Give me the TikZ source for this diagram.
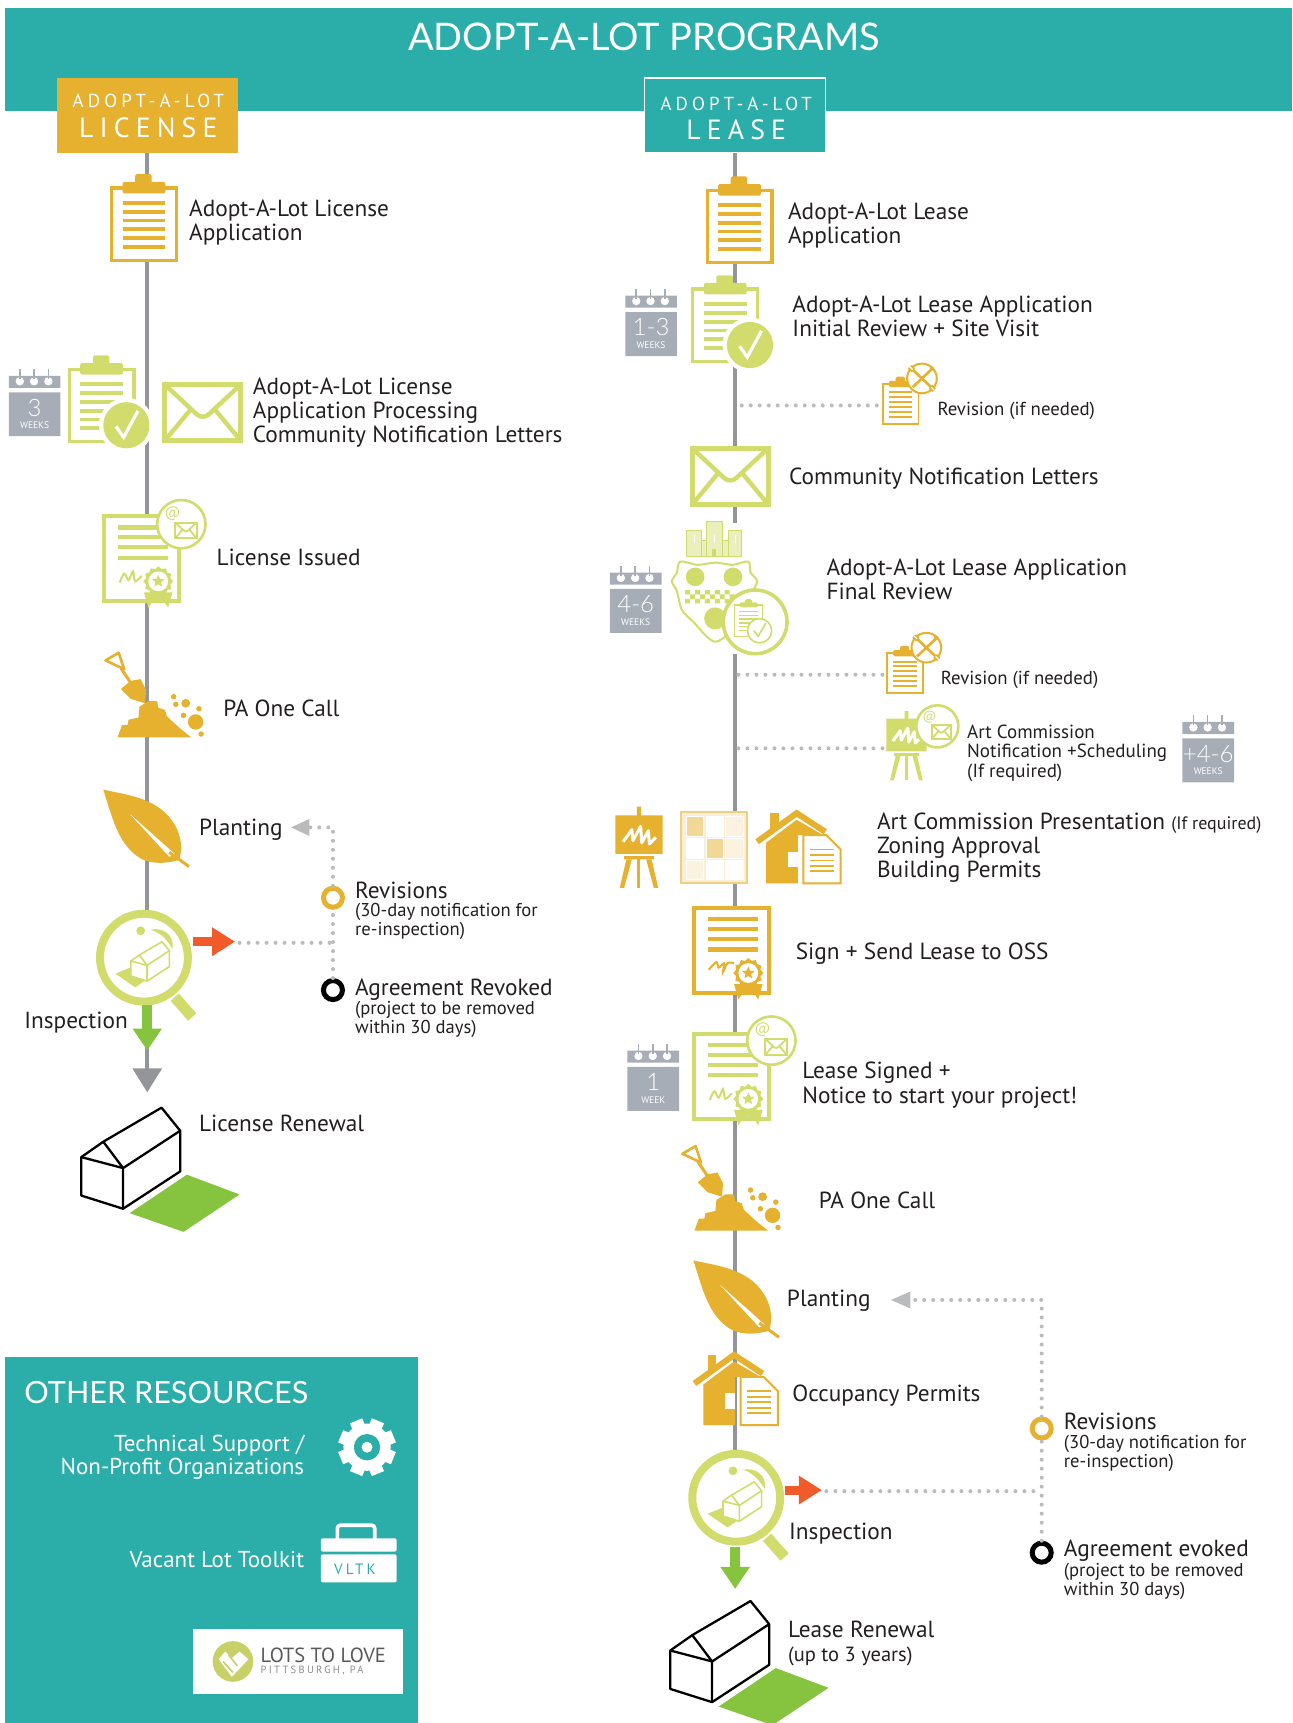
\documentclass[tikz,border=0pt]{standalone}
\usepackage{fontspec}
\setmainfont{PT Sans}
\newfontfamily\spacefont{PT Sans}[LetterSpace=22]
\newfontfamily\headfont{Lato}
\newfontfamily\thinfont{Lato Light}
\usepackage{tikz}
\usetikzlibrary{shapes.geometric, arrows.meta}
\definecolor{tealbg}{HTML}{2BAEA9}
\definecolor{amber}{HTML}{E5B12E}
\definecolor{lime}{HTML}{D2DC6D}
\definecolor{grass}{HTML}{86C440}
\definecolor{redarrow}{HTML}{F15A29}
\definecolor{spinegray}{HTML}{939598}
\definecolor{calgray}{HTML}{A7ADB7}
\definecolor{dotgray}{HTML}{B9BBBD}
\definecolor{ink}{HTML}{231F20}
\tikzstyle{lab} = [anchor=west, align=left, inner sep=0pt, text=ink, yshift=-1.6pt, font=\fontsize{23.3}{24.2}\selectfont]
\tikzstyle{midlab} = [lab, font=\fontsize{18.8}{20}\selectfont]
\tikzstyle{sublab} = [lab, font=\fontsize{18.6}{19}\selectfont]
\tikzstyle{artlab} = [lab, font=\fontsize{19}{19.4}\selectfont]
\tikzstyle{whitelab} = [inner sep=0pt, text=white, align=right, anchor=east, yshift=-1.2pt, font=\fontsize{23}{23.4}\selectfont]
\tikzstyle{spine} = [spinegray, line width=3.6pt]
\tikzstyle{dots} = [dotgray, line width=4pt, line cap=round, dash pattern=on 0pt off 9pt]
\tikzstyle{greenarrow} = [grass, line width=9.5pt, -{Triangle[length=22pt, width=28pt]}]
\tikzstyle{redblock} = [redarrow, line width=9pt, -{Triangle[length=23pt, width=27pt]}]
\tikzstyle{ringmark} = [circle, inner sep=0pt, minimum size=19pt, fill=white, line width=5pt]
\tikzstyle{progbox} = [inner sep=0pt, minimum width=181pt, minimum height=74.5pt, text=white, align=center]
\tikzset{
  pics/calendar/.style 2 args={code={
    \fill[calgray] (0,6) rectangle (47,17) (0,21) rectangle (47,61);
    \foreach \k in {10,23,36} {
      \fill[white] (\k,11) circle (3.8);
      \draw[calgray, line width=1.6pt] (\k,0) -- (\k,9);
    }
    \node (num) [text=white, inner sep=0pt, font=\thinfont\fontsize{24}{24}\selectfont] at (23.5,35) {#1};
    \node (wk) [text=white, inner sep=0pt, font=\fontsize{9.5}{10}\selectfont] at (23.5,51) {#2};
  }},
  pics/clipboard/.style 2 args={code={
    \draw[#1, fill=white, line width=#2*3.2pt] (1.5,13) rectangle (60.5,79);
    \fill[#1, rounded corners=1.5pt] (11.5,7.5) rectangle (50.5,18) (23,0.5) rectangle (38,10);
    \foreach \k in {0,...,5} \draw[#1, line width=#2*3.8pt] (11.5,26.7+8*\k) -- (50.5,26.7+8*\k);
  }},
  pics/checkclip/.style={code={
    \pic (board) at (0,0) {clipboard={lime}{#1}};
    \fill[white] (53.5,64) circle (25);
    \fill[lime] (53.5,64) circle (21);
    \draw[white, line width=#1*3.2pt] (44,65) -- (51,75) -- (64,51);
  }},
  pics/envelope/.style={code={
    \draw[lime, fill=white, line width=#1*5pt] (2,2) rectangle (71,53);
    \draw[lime, line width=#1*4.4pt] (2,2) -- (31,29) .. controls (34,32) and (39,32) .. (42,29) -- (71,2)
      (2,53) -- (26,24) (71,53) -- (47,24);
  }},
  pics/mailbubble/.style={code={
    \draw[lime, fill=white, line width=2.6pt] (0,0) circle (22);
    \node (at) [text=lime, inner sep=0pt, font=\fontsize{15}{15}\selectfont] at (-8,-10) {@};
    \pic (mini) at (-6,-2) [scale=.28, transform shape] {envelope=.4};
  }},
  pics/seal/.style={code={
    \fill[#1] (-13,10) -- (-9,24) -- (-5,18) -- (0,16) -- (5,18) -- (9,24) -- (13,10) -- cycle;
    \node (cog) [star, star points=12, star point ratio=1.2, fill=#1, inner sep=0pt, minimum size=30pt] at (0,0) {};
    \fill[white] (0,0) circle (9);
    \node (mid) [star, star points=5, star point ratio=2.2, fill=#1, inner sep=0pt, minimum size=13pt] at (0,0) {};
  }},
  pics/cert/.style 2 args={code={
    \draw[#1, fill=white, line width=4pt] (2,2) rectangle (70,79);
    \foreach \k in {12,21,30,39.5} \draw[#1, line width=4.2pt] (14,\k) -- (60,\k);
    \draw[#1, line width=2pt] plot[smooth] coordinates {#2};
    \pic (stamp) at (51,61) {seal=#1};
  }},
  pics/dirt/.style={code={
    \draw[amber, line width=2.6pt, line join=round] (2,11) -- (14,4) -- (19,19) -- cycle;
    \draw[amber, line width=3pt] (16,18) -- (28,36);
    \fill[amber] (25,29.6) -- (34,28) -- (39,38) -- (38,50) -- (25,46) -- (16,37) -- cycle;
    \fill[amber] (13,81) -- (17,70) -- (22,70) -- (23,65) -- (32,63) -- (33,53) -- (41,48) -- (49,48)
      -- (50,54) -- (56,56) -- (58,62) -- (70,73) -- (80,81) -- cycle;
    \fill[amber] (75,50) circle (4) (84,67) circle (7) (64,44) circle (2.5) (66,51) circle (2.5)
      (73,61) circle (2.5) (87,55) circle (2.5) (89,78) circle (2.5);
  }},
  pics/leaf/.style={code={
    \fill[amber] (0,0) .. controls (18,4) and (35,6) .. (50,16) .. controls (65,26) and (75,45) .. (69,64)
      .. controls (55,68) and (40,68) .. (30,60) .. controls (13,47) and (8,25) .. (0,0);
    \fill[white] (24,22) -- (65,58.5) -- (60,61) -- cycle;
    \draw[amber, line width=3pt] (60,57) -- (78,70);
  }},
  pics/hut/.style 2 args={code={
    \draw[#1, fill=white, line width=#2*2.3pt, line join=round] (73,0) -- (90,21) -- (90,58) -- (38,92)
      -- (0,80) -- (0,45) -- (20,31) -- cycle;
    \draw[#1, line width=#2*2.3pt, line join=round] (20,31) -- (38,55) -- (90,21) (0,45) -- (38,55) -- (38,92);
  }},
  pics/renewal/.style={code={
    \pic (shell) at (0,0) {hut={black}{1}};
    \fill[grass] (96,61) -- (144,79) -- (93,113) -- (44,96) -- cycle;
  }},
  pics/magnifier/.style={code={
    \draw[lime, line width=11pt] (28,36) -- (44,54);
    \draw[lime, fill=white, line width=8pt] (0,0) circle (40);
    \fill[lime] (-3,-24.5) circle (4);
    \fill[lime] (6,-25.5) .. controls (18,-28) and (28,-20) .. (26,-8) .. controls (20,-18) and (14,-23) .. (6,-25.5);
    \fill[lime] (-26,14.5) -- (-11,8.5) -- (4,19) -- (-8,27) -- cycle;
    \pic (mini) at (-12,-14.5) [scale=.39, transform shape] {hut={lime}{.7}};
  }},
  pics/easel/.style={code={
    \fill[#1] (0,0) rectangle (43,35) (19.5,-8) rectangle (23.5,0) (8,37) rectangle (35,40);
    \fill[#1] (10,40) -- (4,66) -- (8,66) -- (15,40) -- cycle (33,40) -- (39,66) -- (35,66) -- (28,40) -- cycle;
    \draw[#1, line width=3pt] (21.5,40) -- (21.5,66);
    \draw[white, line width=3pt, line join=round] plot coordinates {(7,24) (15,13) (16,23) (23,10) (24,25) (30,14) (31,26) (37,20)};
  }},
  pics/zonegrid/.style={code={
    \draw[amber!60, fill=amber!20, line width=2pt] (1,1) rectangle (61,66);
    \foreach \col/\row/\tint in {0/0/50,1/0/0,2/0/15,0/1/0,1/1/50,2/1/15,0/2/15,1/2/0,2/2/0}
      \draw[white, fill=amber!\tint!white, line width=.8pt] (5.4+18*\col,5+19.8*\row) rectangle +(16,18);
  }},
  pics/permit/.style={code={
    \fill[amber] (-24,3) rectangle (-16,18);
    \draw[amber, line width=6pt] (-36,29) -- (0,3) -- (26,20);
    \fill[amber] (-28,30) -- (0,9) -- (24,23) -- (1,23) -- (1,67) -- (-28,67) -- cycle;
    \fill[white] (-8,38) rectangle (1,52);
    \draw[amber, fill=white, line width=2pt] (6,23) -- (27,23) -- (40,36) -- (40,67) -- (6,67) -- cycle;
    \foreach \k in {36,41,46,51,56} \draw[amber, line width=1.8pt] (12,\k) -- (34,\k);
  }},
  pics/revision/.style={code={
    \pic (sheet) at (0,0) [scale=.55, transform shape] {clipboard={amber}{.55}};
    \draw[amber, fill=white, line width=2pt] (36.5,2) circle (13.5);
    \draw[amber, line width=2.6pt] (28,-6) -- (45,10) (45,-6) -- (28,10);
    \fill[amber] (27,-7) circle (3) (46,11) circle (3) (45.5,-7) circle (2);
    \draw[white, line width=1.2pt] (25,-9) -- (28,-6) (48,13) -- (45,10);
  }},
  pics/crest/.style={code={
    \fill[white] (51,0) rectangle (65,119);
    \draw[lime, fill=lime!45, line width=1pt] (14,6.5) rectangle (27.7,30.7) (32,-1) rectangle (46.6,30.7) (52,6.5) rectangle (64,30.7) (27.7,16) rectangle (32,30.7) (46.6,16) rectangle (52,30.7);
    \fill[lime] (36.5,24) rectangle (41,30.7);
    \foreach \k in {20.8,39.3,58} \draw[white, line width=.8pt] (\k,11) -- (\k,18);
    \draw[lime, fill=white, line width=2pt] plot[smooth cycle] coordinates {(8,35) (24,38) (40,36) (56,38) (70,35) (72,45) (78,53) (72,66) (62,90) (40,108) (20,90) (9.5,79) (5,62) (0.4,53) (5,45)};
    \fill[lime] (21.6,49) circle (8.5) (56,49) circle (8.5) (39.8,86.8) circle (10);
    \foreach \k/\up in {0/0,1/4,2/0,3/4,4/0,5/4,6/0,7/4,8/0,9/4} \fill[lime] (12.5+4.5*\k,61+\up) rectangle +(4.5,4) (12.5+4.5*\k,69-\up) rectangle +(4.5,4);
    \draw[lime, fill=white, line width=3.6pt] (76.2,89.9) circle (29);
    \pic (mini) at (57,69) [scale=.43, transform shape] {clipboard={lime}{.4}};
    \draw[lime, fill=white, line width=1.6pt] (80.2,98) circle (11);
    \draw[lime, line width=1.6pt] (75,98) -- (79,103) -- (86,91);
  }},
  pics/gear/.style={code={
    \foreach \k in {0,45,...,315} \fill[white, rotate=\k+22.5] (-6,-26) rectangle (6,0);
    \fill[white] (0,0) circle (21.5);
    \fill[tealbg] (0,0) circle (12);
    \fill[white] (0,0) circle (5);
  }}
}
\begin{document}
\begin{tikzpicture}[x=1.0986pt, y=-1.0986pt]
  \useasboundingbox (0,0) rectangle (1176,1568);
  \fill[tealbg] (5,7) rectangle (1176,101);
  \fill[tealbg] (5,1235) rectangle (380,1568);
  \node (title) [text=white, inner sep=0pt, font=\headfont\fontsize{38}{38}\selectfont] at (586,34) {ADOPT-A-LOT PROGRAMS};
  \node (licbox) [progbox, fill=amber] at (134,105) {};
  \node (leasebox) [progbox, fill=tealbg, draw=white, line width=1.6pt] at (669,105) {};
  \node (licsmall) [text=white, inner sep=0pt, font=\spacefont\fontsize{18.8}{18.8}\selectfont] at (135,92) {ADOPT-A-LOT};
  \node (licbig) [text=white, inner sep=0pt, font=\spacefont\fontsize{27.8}{27.8}\selectfont] at (135,116) {LICENSE};
  \node (leasesmall) [text=white, inner sep=0pt, font=\spacefont\fontsize{18.8}{18.8}\selectfont] at (670,95) {ADOPT-A-LOT};
  \node (leasebig) [text=white, inner sep=0pt, font=\spacefont\fontsize{27.8}{27.8}\selectfont] at (670,118) {LEASE};

  \coordinate (licend) at (134,994);
  \coordinate (leaseend) at (669,1363);
  \coordinate (licgreen) at (134,915);
  \coordinate (licgreenend) at (134,956);
  \coordinate (leasegreen) at (669,1408);
  \coordinate (leasegreenend) at (669,1446);
  \draw[spine, -{Triangle[length=24pt, width=29pt]}] (licbox.south) -- (licend);
  \draw[spine] (leasebox.south) -- (leaseend);

  \pic (licclip) at (100,158) {clipboard={amber}{1}};
  \pic (liccheck) at (61.5,323) {checkclip=1};
  \pic (liccal) at (8,336) {calendar={3}{WEEKS}};
  \pic (licmail) at (148,348) {envelope=1};
  \pic (liccert) at (93,468) {cert={lime}{(16,62) (20,54) (24,60) (28,52) (30,61) (36,56)}};
  \pic (licbubble) at (165,477) {mailbubble};
  \pic (licdirt) at (94,590) {dirt};
  \pic (licleaf) at (94,718.6) {leaf};
  \pic (licglass) at (131,871.5) {magnifier};
  \pic (lichut) at (74,1008) {renewal};

  \pic (leaseclip) at (642,160) {clipboard={amber}{1}};
  \pic (leasecheck) at (629,250) {checkclip=1};
  \pic (leasecal) at (569,263) {calendar={1-3}{WEEKS}};
  \pic (leaserev) at (802.5,342.4) {revision};
  \pic (leasemail) at (628,406) {envelope=1};
  \pic (leasecrest) at (611,476) {crest};
  \pic (leasecalb) at (555,515) {calendar={4-6}{WEEKS}};
  \pic (leaserevb) at (806.5,587.4) {revision};
  \pic (arteasel) at (806.6,654) [scale=.85, transform shape] {easel=lime};
  \pic (artbubble) at (853,661) [scale=.87, transform shape] {mailbubble};
  \pic (artcal) at (1076,651) {calendar={+4-6}{WEEKS}};
  \pic (presel) at (560,742) {easel=amber};
  \pic (zoning) at (619,738) {zonegrid};
  \pic (permit) at (725,737) {permit};
  \pic (signcert) at (630,824.5) {cert={amber}{(15,58) (22,51) (24,56) (29,52) (28,60) (32,52) (38,52)}};
  \pic (signedcert) at (630,939) {cert={lime}{(16,62) (20,54) (24,60) (28,52) (30,61) (36,56)}};
  \pic (signedbubble) at (702,947) {mailbubble};
  \pic (signedcal) at (571,950) {calendar={1}{WEEK}};
  \pic (leasedirt) at (619,1039) {dirt};
  \pic (leaseleaf) at (631,1147) {leaf};
  \pic (occupancy) at (668,1230) {permit};
  \pic (leaseglass) at (670,1363) {magnifier};
  \pic (leasehut) at (610,1457) {renewal};

  \draw[greenarrow] (licgreen) -- (licgreenend);
  \draw[greenarrow] (leasegreen) -- (leasegreenend);

  \coordinate (licredstart) at (176,857);
  \coordinate (licredtip) at (214,857);
  \coordinate (licdotstart) at (218,858);
  \coordinate (licdotjoin) at (303,858);
  \coordinate (licdotcorner) at (303,753);
  \coordinate (licplant) at (266,753);
  \coordinate (licplantline) at (281,753);
  \draw[redblock] (licredstart) -- (licredtip);
  \draw[dots] (licdotstart) -- (licdotjoin);
  \node (licrev) [ringmark, draw=amber] at (303,817) {};
  \node (licrevoked) [ringmark, draw=black] at (303,901) {};
  \draw[dots] (licrevoked) -- (licrev);
  \draw[dots] (licrev) -- (licdotcorner) -- (licplantline);
  \draw[dotgray, line width=1pt, fill=dotgray] (licplant) -- (281,746) -- (281,760) -- cycle;

  \coordinate (leaseredstart) at (714,1356);
  \coordinate (leaseredtip) at (748,1356);
  \coordinate (leasedotstart) at (752,1357);
  \coordinate (leasedotjoin) at (948,1357);
  \coordinate (leasedotcorner) at (948,1183);
  \coordinate (leaseplant) at (812,1183);
  \coordinate (leaseplantline) at (828,1183);
  \draw[redblock] (leaseredstart) -- (leaseredtip);
  \draw[dots] (leasedotstart) -- (leasedotjoin);
  \node (leaserevs) [ringmark, draw=amber] at (948,1300) {};
  \node (leaserevoked) [ringmark, draw=black] at (948,1413) {};
  \draw[dots] (leaserevoked) -- (leaserevs);
  \draw[dots] (leaserevs) -- (leasedotcorner) -- (leaseplantline);
  \draw[dotgray, line width=1pt, fill=dotgray] (leaseplant) -- (828,1176) -- (828,1190) -- cycle;

  \coordinate (revone) at (675,369);
  \coordinate (revoneend) at (801,369);
  \coordinate (revtwo) at (672,614);
  \coordinate (revtwoend) at (805,614);
  \coordinate (artone) at (672,681);
  \coordinate (artoneend) at (805,681);
  \draw[dots] (revone) -- (revoneend);
  \draw[dots] (revtwo) -- (revtwoend);
  \draw[dots] (artone) -- (artoneend);

  \node (t1) [lab] at (172,201) {Adopt-A-Lot License\\Application};
  \node (t2) [lab] at (230,374) {Adopt-A-Lot License\\Application Processing\\Community Notification Letters};
  \node (t3) [lab] at (197,506) {License Issued};
  \node (t4) [lab] at (203,643) {PA One Call};
  \node (t5) [lab] at (181,754) {Planting};
  \node (t6) [lab] at (323,809) {Revisions};
  \node (t7) [sublab] at (323,837.5) {(30-day notification for\\re-inspection)};
  \node (t8) [lab] at (323,899) {Agreement Revoked};
  \node (t9) [sublab] at (323,926.5) {(project to be removed\\within 30 days)};
  \node (t10) [lab] at (22,929) {Inspection};
  \node (t11) [lab] at (181,1021) {License Renewal};

  \node (r1) [lab] at (717,204) {Adopt-A-Lot Lease\\Application};
  \node (r2) [lab] at (721,286.5) {Adopt-A-Lot Lease Application\\Initial Review + Site Visit};
  \node (r3) [midlab] at (853,372) {Revision (if needed)};
  \node (r4) [lab] at (718,434) {Community Notification Letters};
  \node (r5) [lab] at (752,526) {Adopt-A-Lot Lease Application\\Final Review};
  \node (r6) [midlab] at (856,617) {Revision (if needed)};
  \node (r7) [artlab] at (880,684) {Art Commission\\Notification +Scheduling\\(If required)};
  \node (r8) [lab] at (798,770) {Art Commission Presentation {\fontsize{18}{18}\selectfont (If required)}\\Zoning Approval\\Building Permits};
  \node (r9) [lab] at (724,866) {Sign + Send Lease to OSS};
  \node (r10) [lab] at (730,986) {Lease Signed +\\Notice to start your project!};
  \node (r11) [lab] at (745,1091) {PA One Call};
  \node (r12) [lab] at (716,1182) {Planting};
  \node (r13) [lab] at (721,1269) {Occupancy Permits};
  \node (r14) [lab] at (718,1394) {Inspection};
  \node (r15) [lab] at (968,1292) {Revisions};
  \node (r16) [sublab] at (968,1321) {(30-day notification for\\re-inspection)};
  \node (r17) [lab] at (968,1410) {Agreement evoked};
  \node (r18) [sublab] at (968,1438) {(project to be removed\\within 30 days)};
  \node (r19) [lab] at (717,1481) {Lease Renewal};
  \node (r20) [sublab, font=\fontsize{20.5}{20.5}\selectfont] at (717,1506) {(up to 3 years)};

  \node (other) [anchor=west, inner sep=0pt, text=white, font=\headfont\fontsize{30.6}{30.6}\selectfont] at (22,1267) {OTHER RESOURCES};
  \node (tech) [whitelab] at (277,1325) {Technical Support /\\Non-Profit Organizations};
  \node (kit) [whitelab] at (277,1418) {Vacant Lot Toolkit};
  \pic (techgear) at (334,1317) {gear};
  \draw[white, line width=3.6pt, rounded corners=3pt] (307,1402) -- (307,1388) -- (341,1388) -- (341,1402);
  \fill[white, rounded corners=2pt] (292,1400) rectangle (361,1412);
  \fill[white, rounded corners=2pt] (292,1414.5) rectangle (361,1440);
  \node (vltk) [text=tealbg, inner sep=0pt, font=\spacefont\fontsize{15}{15}\selectfont] at (323,1428) {VLTK};
  \fill[white] (176,1482) rectangle (367,1542);
  \fill[lime!95!black] (212,1512) circle (18.5);
  \fill[white] (199,1510) -- (205,1503) -- (211,1509) -- (218,1503) -- (226,1510) -- (211,1526) -- cycle;
  \draw[lime!95!black, line width=1.6pt] (203,1512) -- (212,1522) (208,1506) -- (216,1516);
  \node (logotop) [anchor=west, inner sep=0pt, text=black!65, font=\fontsize{20.5}{20.5}\selectfont] at (237,1506) {LOTS TO LOVE};
  \node (logobot) [anchor=west, inner sep=0pt, text=black!45, font=\spacefont\fontsize{10.5}{10.5}\selectfont] at (237,1520) {PITTSBURGH, PA};
\end{tikzpicture}
\end{document}
